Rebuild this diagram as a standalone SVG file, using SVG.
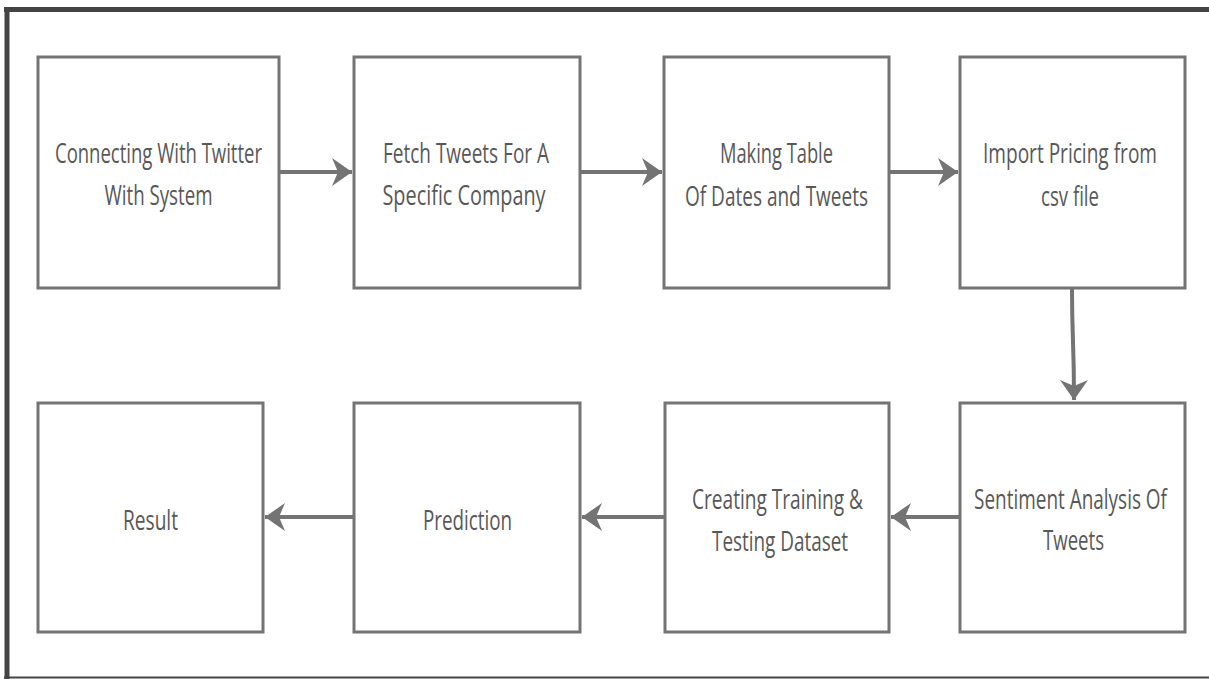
<svg xmlns="http://www.w3.org/2000/svg" width="1209" height="679" viewBox="0 0 1209 679">
  <style>
    .box { fill: #ffffff; stroke: #747474; stroke-width: 3; }
    .lbl { font-family: "Open Sans", "Noto Sans", "Liberation Sans", sans-serif; font-size: 28px; fill: #585858; text-anchor: middle; }
    .edge { fill: none; stroke: #747474; stroke-width: 4; }
    .frame { fill: none; stroke: #444444; }
  </style>
  <defs>
    <marker id="head" markerUnits="userSpaceOnUse" viewBox="0 0 20 28" refX="20" refY="14" markerWidth="20" markerHeight="28" orient="auto">
      <path d="M0,0 L20,14 L0,28 L6,14 Z" fill="#747474"/>
    </marker>
  </defs>

  <rect width="1209" height="679" fill="#ffffff"/>

  <!-- outer frame -->
  <g id="frame">
    <line class="frame" x1="4" y1="9.5" x2="1209" y2="9.5" stroke-width="5"/>
    <line class="frame" x1="7" y1="7" x2="7" y2="679" stroke-width="5"/>
    <line class="frame" x1="4" y1="677.5" x2="1209" y2="677.5" stroke-width="2"/>
  </g>

  <!-- connectors -->
  <g id="connectors">
    <path class="edge" d="M279,172 L352,172" marker-end="url(#head)"/>
    <path class="edge" d="M580,172 L662,172" marker-end="url(#head)"/>
    <path class="edge" d="M889,172 L958,172" marker-end="url(#head)"/>
    <path class="edge" d="M1072,289 C1072,340 1074,340 1074,400" marker-end="url(#head)"/>
    <path class="edge" d="M960,517 L891,517" marker-end="url(#head)"/>
    <path class="edge" d="M665,517 L582,517" marker-end="url(#head)"/>
    <path class="edge" d="M354,517 L265,517" marker-end="url(#head)"/>
  </g>

  <g id="connect-twitter">
    <rect class="box" x="38" y="57" width="241" height="231"/>
    <text class="lbl" x="158.5" y="163" textLength="207" lengthAdjust="spacingAndGlyphs">Connecting With Twitter</text>
    <text class="lbl" x="158.5" y="205" textLength="108" lengthAdjust="spacingAndGlyphs">With System</text>
  </g>

  <g id="fetch-tweets">
    <rect class="box" x="354" y="57" width="226" height="231"/>
    <text class="lbl" x="466" y="163" textLength="166" lengthAdjust="spacingAndGlyphs">Fetch Tweets For A</text>
    <text class="lbl" x="464" y="205" textLength="163" lengthAdjust="spacingAndGlyphs">Specific Company</text>
  </g>

  <g id="making-table">
    <rect class="box" x="664" y="57" width="225" height="231"/>
    <text class="lbl" x="776.5" y="163" textLength="113" lengthAdjust="spacingAndGlyphs">Making Table</text>
    <text class="lbl" x="776.5" y="206" textLength="183" lengthAdjust="spacingAndGlyphs">Of Dates and Tweets</text>
  </g>

  <g id="import-pricing">
    <rect class="box" x="960" y="57" width="225" height="231"/>
    <text class="lbl" x="1070" y="163" textLength="174" lengthAdjust="spacingAndGlyphs">Import Pricing from</text>
    <text class="lbl" x="1070" y="206" textLength="58" lengthAdjust="spacingAndGlyphs">csv file</text>
  </g>

  <g id="sentiment-analysis">
    <rect class="box" x="960" y="403" width="225" height="229"/>
    <text class="lbl" x="1070.5" y="509" textLength="193" lengthAdjust="spacingAndGlyphs">Sentiment Analysis Of</text>
    <text class="lbl" x="1073.5" y="550" textLength="61" lengthAdjust="spacingAndGlyphs">Tweets</text>
  </g>

  <g id="training-dataset">
    <rect class="box" x="665" y="403" width="224" height="229"/>
    <text class="lbl" x="777.5" y="509" textLength="171" lengthAdjust="spacingAndGlyphs">Creating Training &amp;</text>
    <text class="lbl" x="780" y="551" textLength="136" lengthAdjust="spacingAndGlyphs">Testing Dataset</text>
  </g>

  <g id="prediction">
    <rect class="box" x="354" y="403" width="226" height="229"/>
    <text class="lbl" x="467.5" y="530" textLength="89" lengthAdjust="spacingAndGlyphs">Prediction</text>
  </g>

  <g id="result">
    <rect class="box" x="38" y="403" width="225" height="229"/>
    <text class="lbl" x="150.5" y="530" textLength="55" lengthAdjust="spacingAndGlyphs">Result</text>
  </g>
</svg>
